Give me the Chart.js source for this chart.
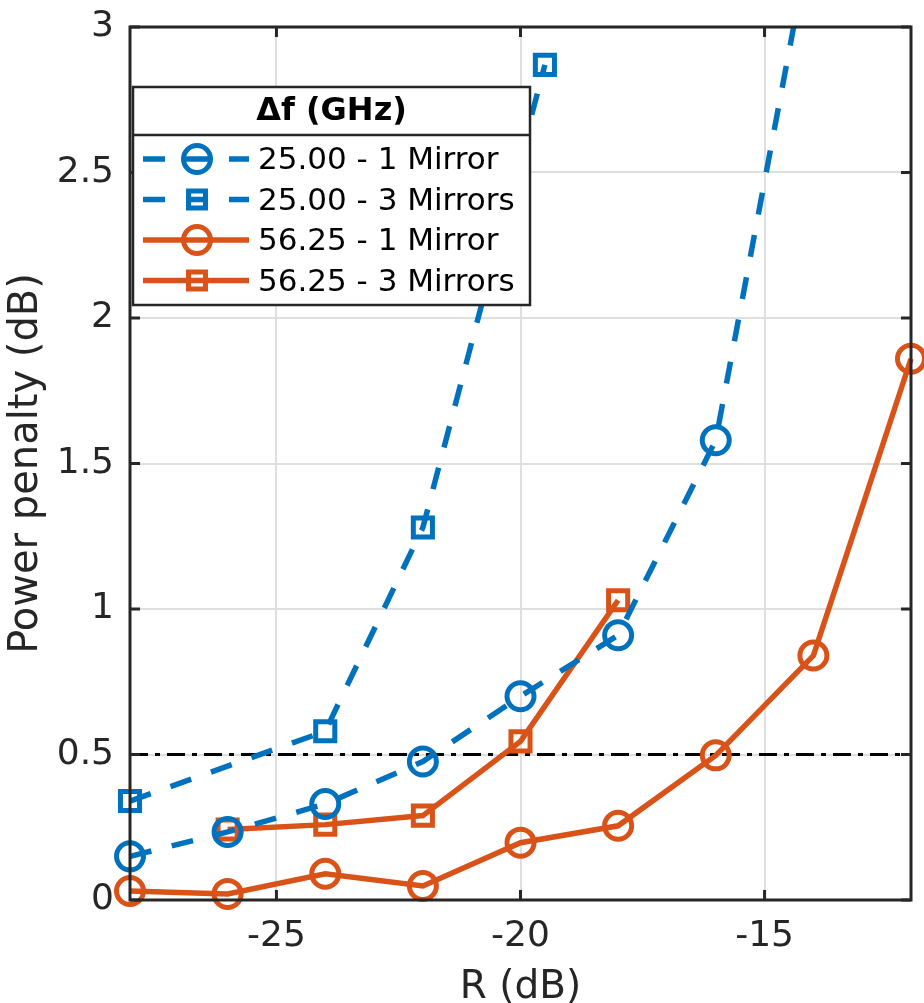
<!DOCTYPE html>
<html>
<head>
<meta charset="utf-8">
<script src="https://cdn.jsdelivr.net/npm/chart.js@4.4.1/dist/chart.umd.min.js"></script>
<style>
  html, body { margin: 0; padding: 0; background: #fff; }
</style>
</head>
<body>
<canvas id="chart" width="924" height="1003"></canvas>
<script>
// R (dB) and power penalty (dB)
const r25one = [-28, -26, -24, -22, -20, -18, -16, -14];
const pp25one = [0.15, 0.234, 0.33, 0.476, 0.70, 0.91, 1.58, 3.36];
const r25three = [-28, -24, -22, -19.5];
const pp25three = [0.34, 0.58, 1.28, 2.87];
const r56one = [-28, -26, -24, -22, -20, -18, -16, -14, -12];
const pp56one = [0.031, 0.021, 0.09, 0.048, 0.197, 0.255, 0.497, 0.84, 1.86];
const r56three = [-26, -24, -22, -20, -18];
const pp56three = [0.242, 0.259, 0.29, 0.545, 1.03];
const seriesNames = ['25.00 - 1 Mirror', '25.00 - 3 Mirrors', '56.25 - 1 Mirror', '56.25 - 3 Mirrors'];
const legendTitle = '\u0394f (GHz)';
const xTicks = [-25, -20, -15];
const threshold = 0.5;

const blue = '#0072BD';
const orange = '#D95319';
const axisColor = '#262626';
const font = 'DejaVu Sans';

function pts(xs, ys) {
  return xs.map((x, i) => ({ x: x, y: ys[i] }));
}

const clip = { left: 20, right: 20, top: 0, bottom: 20 };

function series(label, xs, ys, color, shape, dashed) {
  return {
    label: label,
    data: pts(xs, ys),
    borderColor: color,
    borderWidth: 5.5,
    borderDash: dashed ? [22, 21] : [],
    pointStyle: shape,
    pointRadius: 13.5,
    pointBorderWidth: 5,
    pointBorderColor: color,
    pointBackgroundColor: 'rgba(0,0,0,0)',
    pointHoverRadius: 13.5,
    clip: clip,
    showLine: true
  };
}

const datasets = [
  series(seriesNames[0], r25one, pp25one, blue, 'circle', true),
  series(seriesNames[1], r25three, pp25three, blue, 'rect', true),
  series(seriesNames[2], r56one, pp56one, orange, 'circle', false),
  series(seriesNames[3], r56three, pp56three, orange, 'rect', false),
  {
    label: 'threshold',
    data: [{ x: -28, y: threshold }, { x: -12, y: threshold }],
    borderColor: '#000',
    borderWidth: 3,
    borderDash: [18, 7, 5, 7],
    pointRadius: 0,
    showLine: true
  }
];

// axes box with inward ticks, MATLAB style
const boxPlugin = {
  id: 'box',
  afterDatasetsDraw(chart) {
    const { ctx, chartArea: a, scales } = chart;
    ctx.save();
    ctx.strokeStyle = axisColor;
    ctx.lineWidth = 3;
    ctx.setLineDash([]);
    ctx.strokeRect(a.left, a.top, a.right - a.left, a.bottom - a.top);
    const len = 10;
    ctx.beginPath();
    xTicks.forEach(v => {
      const px = scales.x.getPixelForValue(v);
      ctx.moveTo(px, a.bottom); ctx.lineTo(px, a.bottom - len);
      ctx.moveTo(px, a.top); ctx.lineTo(px, a.top + len);
    });
    scales.y.ticks.forEach(t => {
      const py = scales.y.getPixelForValue(t.value);
      ctx.moveTo(a.left, py); ctx.lineTo(a.left + len, py);
      ctx.moveTo(a.right, py); ctx.lineTo(a.right - len, py);
    });
    ctx.stroke();
    ctx.restore();
  }
};

// boxed legend with a title row
const legendPlugin = {
  id: 'boxLegend',
  afterDraw(chart) {
    const { ctx, chartArea: a } = chart;
    const x0 = a.left + 3, y0 = a.top + 60, w = 397, h = 218, titleH = 48, rowH = 40.5;
    ctx.save();
    ctx.fillStyle = '#fff';
    ctx.fillRect(x0, y0, w, h);
    ctx.strokeStyle = axisColor;
    ctx.lineWidth = 2.5;
    ctx.strokeRect(x0, y0, w, h);
    ctx.beginPath();
    ctx.moveTo(x0, y0 + titleH); ctx.lineTo(x0 + w, y0 + titleH);
    ctx.stroke();
    ctx.fillStyle = '#000';
    ctx.font = 'bold 32px "' + font + '"';
    ctx.textAlign = 'center';
    ctx.textBaseline = 'middle';
    ctx.fillText(legendTitle, x0 + w / 2, y0 + titleH / 2 + 1);
    ctx.font = '31px "' + font + '"';
    ctx.textAlign = 'left';
    chart.data.datasets.slice(0, 4).forEach((ds, i) => {
      const cy = y0 + titleH + 24 + i * rowH;
      ctx.strokeStyle = ds.borderColor;
      ctx.lineWidth = ds.borderWidth;
      ctx.setLineDash(ds.borderDash);
      ctx.beginPath();
      ctx.moveTo(x0 + 10, cy); ctx.lineTo(x0 + 116, cy);
      ctx.stroke();
      ctx.setLineDash([]);
      ctx.fillStyle = 'rgba(0,0,0,0)';
      ctx.lineWidth = 5;
      Chart.helpers.drawPoint(ctx, {
        pointStyle: ds.pointStyle, radius: ds.pointStyle === 'circle' ? 13.5 : 12,
        borderWidth: 5, rotation: 0
      }, x0 + 64, cy);
      ctx.fillStyle = '#000';
      ctx.fillText(ds.label, x0 + 125, cy + 2);
    });
    ctx.restore();
  }
};

new Chart(document.getElementById('chart'), {
  type: 'scatter',
  data: { datasets: datasets },
  plugins: [boxPlugin, legendPlugin],
  options: {
    responsive: false,
    devicePixelRatio: 1,
    animation: false,
    layout: { autoPadding: false, padding: { top: 27, right: 13, left: 0, bottom: 0 } },
    plugins: {
      legend: { display: false },
      tooltip: { enabled: false }
    },
    scales: {
      x: {
        type: 'linear',
        min: -28,
        max: -12,
        afterFit(s) { s.height = 103; s.paddingLeft = 0; s.paddingRight = 0; },
        afterBuildTicks(s) { s.ticks = xTicks.map(v => ({ value: v })); },
        grid: { color: '#dfdfdf', lineWidth: 2, drawTicks: false },
        border: { display: false },
        ticks: { color: axisColor, font: { family: font, size: 36 }, padding: 15 },
        title: { display: true, text: 'R (dB)', color: axisColor, font: { family: font, size: 39 }, padding: { top: 0, bottom: -8 } }
      },
      y: {
        min: 0,
        max: 3,
        afterFit(s) { s.width = 130; s.paddingTop = 0; s.paddingBottom = 0; },
        grid: { color: '#dfdfdf', lineWidth: 2, drawTicks: false },
        border: { display: false },
        ticks: {
          stepSize: 0.5, color: axisColor, font: { family: font, size: 36 }, padding: 16,
          callback: v => String(v)
        },
        title: { display: true, text: 'Power penalty (dB)', color: axisColor, font: { family: font, size: 40 }, padding: { top: 3, bottom: 0 } }
      }
    }
  }
});
</script>
</body>
</html>
